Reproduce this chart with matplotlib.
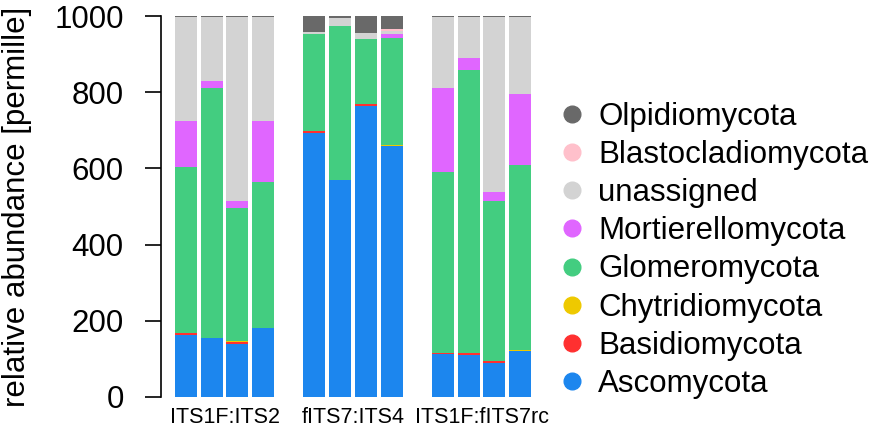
import numpy as np
import matplotlib
matplotlib.use("Agg")
from matplotlib import pyplot as plt
from matplotlib.lines import Line2D

plt.rcParams['font.family'] = ['Liberation Sans', 'DejaVu Sans']

# primer pairs, four samples each
groups = ['ITS1F:ITS2', 'fITS7:ITS4', 'ITS1F:fITS7rc']

# phyla from bottom of the stack to the top
phyla = ['Ascomycota', 'Basidiomycota', 'Chytridiomycota', 'Glomeromycota',
         'Mortierellomycota', 'unassigned', 'Blastocladiomycota', 'Olpidiomycota']
colors = ['#1C86EE', '#FF3030', '#EEC900', '#43CD80',
          '#E066FF', '#D3D3D3', '#FFC0CB', '#696969']

# relative abundance in permille, 12 samples (3 groups x 4)
ascomycota        = [162, 155, 140, 180, 693, 569, 765, 659, 113, 110, 88, 120]
basidiomycota     = [6, 0, 5, 0, 4, 0, 4, 0, 2, 5, 7, 0]
chytridiomycota   = [0, 1, 1, 0, 0, 0, 0, 2, 0, 0, 0, 3]
glomeromycota     = [435, 656, 351, 385, 256, 405, 171, 282, 476, 744, 419, 486]
mortierellomycota = [121, 17, 17, 159, 0, 0, 0, 10, 220, 31, 24, 186]
unassigned        = [273, 168, 483, 273, 5, 21, 15, 8, 186, 107, 459, 202]
blastocladiomycota = [0, 0, 0, 0, 0, 0, 0, 4, 0, 0, 0, 0]
olpidiomycota     = [3, 3, 3, 3, 42, 5, 45, 35, 3, 3, 3, 3]

values = [ascomycota, basidiomycota, chytridiomycota, glomeromycota,
          mortierellomycota, unassigned, blastocladiomycota, olpidiomycota]

# bar positions: 4 bars per group, one empty slot between groups
pos = np.array([0, 1, 2, 3, 5, 6, 7, 8, 10, 11, 12, 13])

fig = plt.figure(figsize=(8.78, 4.28), dpi=100)
ax = fig.add_axes([160.5 / 878, 31 / 428, 372.5 / 878, 381 / 428])

bottom = np.zeros(len(pos))
for name, col, v in zip(phyla, colors, values):
    ax.bar(pos, v, bottom=bottom, width=0.856, color=col, linewidth=0, label=name)
    bottom += np.array(v)

ax.set_xlim(-0.99, 13.5)
ax.set_ylim(0, 1000)

for s in ['top', 'right', 'bottom']:
    ax.spines[s].set_visible(False)
ax.spines['left'].set_linewidth(1.2)

ax.set_yticks([0, 200, 400, 600, 800, 1000])
ax.tick_params(axis='y', length=11.5, width=1.2, pad=15, labelsize=22.5)
ax.set_xticks([1.5, 6.5, 11.5])
ax.set_xticklabels(groups)
ax.tick_params(axis='x', length=0, pad=7, labelsize=15.5)

ax.set_ylabel('relative abundance [permille]', fontsize=22.5)
ax.yaxis.set_label_coords(-0.344, 0.5)

handles = [Line2D([], [], marker='o', linestyle='none', markersize=12,
                  markerfacecolor=c, markeredgecolor=c) for c in colors]
fig.legend(handles[::-1], phyla[::-1], loc='center left',
           bbox_to_anchor=(556 / 878, 0.415), frameon=False, fontsize=22.5,
           handletextpad=0.35, labelspacing=0.26, borderaxespad=0,
           handlelength=1.0, borderpad=0)

plt.savefig('out.png', dpi=100)
